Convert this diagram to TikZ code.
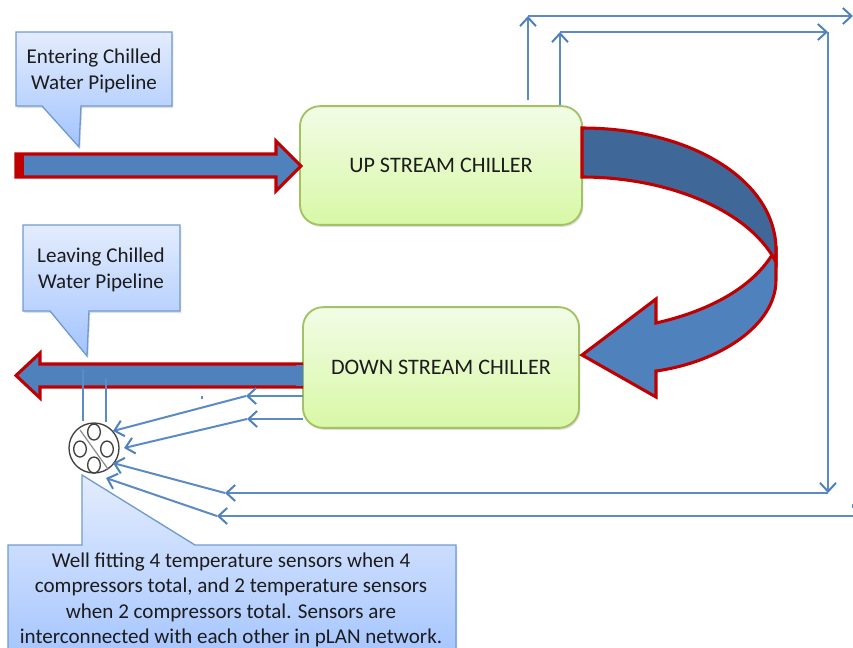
\documentclass[tikz,border=0pt]{standalone}
\usepackage{fontspec}
\setmainfont{Carlito}
\usetikzlibrary{arrows.meta,shadows,shapes.geometric}
\definecolor{wire}{HTML}{5B8AC4}
\definecolor{wirehead}{HTML}{4F81BD}
\definecolor{pipefill}{HTML}{4F81BD}
\definecolor{pipedark}{HTML}{3F6797}
\definecolor{pipered}{HTML}{C00000}
\definecolor{boxedge}{HTML}{A3C263}
\definecolor{boxtop}{HTML}{F2FCE6}
\definecolor{boxbottom}{HTML}{D8F8A6}
\definecolor{calloutedge}{HTML}{6F9BD1}
\definecolor{callouttop}{HTML}{E3ECFD}
\definecolor{calloutbottom}{HTML}{A3C4FF}
\definecolor{inktext}{HTML}{1C1C1C}
\tikzset{
  wireline/.style={draw=wire,line width=1.5pt},
  wirearrow/.style={wireline,-{Straight Barb[length=6.5pt,width=12pt,line width=1.5pt,color=wirehead]}},
  pipeshape/.style={draw=pipered,line width=2.3pt,fill=pipefill,line join=miter},
  chiller/.style={draw=boxedge,line width=1.4pt,rounded corners=15pt,top color=boxtop,
    bottom color=boxbottom,
    drop shadow={opacity=.25,shadow xshift=1pt,shadow yshift=-1.5pt},
    font=\fontsize{16.6}{20}\selectfont,text=inktext,inner sep=0pt},
  callout/.style={draw=calloutedge,line width=1pt,top color=callouttop,bottom color=calloutbottom,
    line join=miter,drop shadow={opacity=.25,shadow xshift=1pt,shadow yshift=-1.5pt}},
  calltext/.style={align=center,font=\fontsize{15.8}{19}\selectfont,text=inktext,inner sep=0pt},
  sensor/.style={draw=black!75,line width=1pt,ellipse,fill=white,inner sep=0pt},
  minisensor/.style={sensor,minimum width=9.5pt,minimum height=12pt},
}
\begin{document}
\begin{tikzpicture}[x=0.75pt,y=-0.75pt]
\useasboundingbox (0,0) rectangle (853,647);
\clip (0,0) rectangle (853,647);
% callouts
\path[callout] (16,32) -- (172,32) -- (172,106) -- (81,106) -- (79,147) -- (42,106) -- (16,106) -- cycle;
\path[callout] (23,225) -- (180,225) -- (180,311) -- (89,311) -- (87,356) -- (50,311) -- (23,311) -- cycle;
\path[callout] (8,545) -- (82,545) -- (82,475) -- (195,545) -- (456,545) -- (456,665) -- (8,665) -- cycle;
\node[calltext] (entertext) at (94,71) {Entering Chilled\\Water Pipeline};
\node[calltext] (leavetext) at (101,270) {Leaving Chilled\\Water Pipeline};
\node[calltext] (welltext) at (231,600) {Well fitting 4 temperature sensors when 4\\compressors total, and 2 temperature sensors\\when 2 compressors total. Sensors are\\interconnected with each other in pLAN network.};
% chillers
\node[chiller,minimum width=211.5pt,minimum height=89pt] (up) at (441,165.5) {\raisebox{-1.6pt}{UP STREAM CHILLER}};
\node[chiller,minimum width=207pt,minimum height=90.5pt] (down) at (441,367.5) {\raisebox{-.8pt}{DOWN STREAM CHILLER}};
% straight pipes
\path[pipeshape] (16,154) -- (276,154) -- (276,141) -- (301,166) -- (276,191) -- (276,177) -- (16,177) -- cycle;
\fill[pipered] (15,153) rectangle (24,178);
\path[pipeshape] (303,364) -- (40,364) -- (40,353) -- (16,375.5) -- (40,398) -- (40,387) -- (303,387);
\fill[pipefill] (296,365) rectangle (303,386);
% curved pipe
\path[pipeshape] (776,250) -- (776,280) .. controls (776,325) and (720,362) .. (656,371) -- (656,397) -- (582,355) -- (656,299) -- (656,323) .. controls (705,312) and (750,290) .. (772,255) -- cycle;
\path[pipeshape,fill=pipedark] (582,128) .. controls (690,128) and (776,180) .. (776,250) -- (776,262) -- (772,255) .. controls (740,205) and (660,177) .. (582,177) -- cycle;
% well
\node[sensor,minimum width=37.5pt,minimum height=37.5pt] (well) at (94,448) {};
\node[minisensor] (s1) at (94,432) {};
\node[minisensor] (s2) at (80,449) {};
\node[minisensor] (s3) at (107,449) {};
\node[minisensor] (s4) at (94,465) {};
\coordinate (divA) at (80,430);
\coordinate (divB) at (108,469);
\draw[black!45,line width=.9pt] (divA) -- (divB);
% wires
\coordinate (pipeA) at (83,369);
\coordinate (wellA) at (83,421);
\coordinate (pipeB) at (106,378);
\coordinate (wellB) at (106,422);
\draw[wireline,line width=1.9pt] (pipeA) -- (wellA);
\draw[wireline,line width=1.9pt] (pipeB) -- (wellB);
\coordinate (d1) at (303,396);
\coordinate (d1b) at (246,396);
\coordinate (d1e) at (113,431);
\coordinate (d2) at (303,419);
\coordinate (d2b) at (247,419);
\coordinate (d2e) at (124,448);
\draw[wirearrow] (d1) -- (d1b);
\draw[wirearrow] (d1b) -- (d1e);
\draw[wirearrow] (d2) -- (d2b);
\draw[wirearrow] (d2b) -- (d2e);
\coordinate (u1) at (528,100);
\coordinate (u1b) at (528,16);
\coordinate (u1c) at (853,16);
\coordinate (u2) at (560,105);
\coordinate (u2b) at (560,32);
\coordinate (u2c) at (828,32);
\coordinate (u2d) at (828,493);
\coordinate (u2e) at (225,493);
\coordinate (u2f) at (113,463);
\coordinate (u1g) at (853,516);
\coordinate (u1h) at (217,516);
\coordinate (u1i) at (106,478);
\draw[wirearrow] (u1) -- (u1b);
\draw[wirearrow] (u1b) -- (u1c);
\draw[wirearrow] (u2) -- (u2b);
\draw[wirearrow] (u2b) -- (u2c);
\draw[wirearrow] (u2c) -- (u2d);
\draw[wirearrow] (u2d) -- (u2e);
\draw[wirearrow] (u2e) -- (u2f);
\draw[wirearrow] (u1g) -- (u1h);
\draw[wirearrow] (u1h) -- (u1i);
\fill[wire] (201,396) rectangle (203,399);
\fill[wire] (851.5,504) rectangle (853,508);
\end{tikzpicture}
\end{document}
